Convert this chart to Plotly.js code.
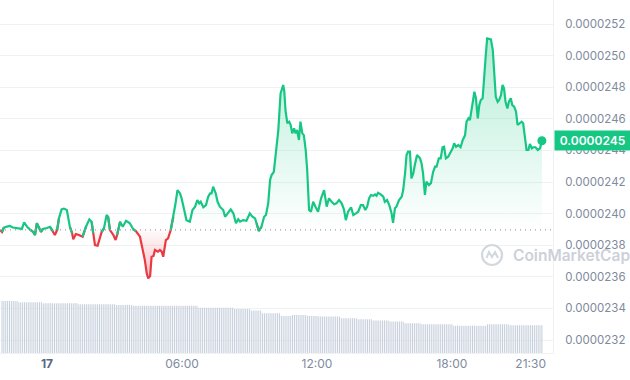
<!DOCTYPE html>
<html><head><meta charset="utf-8">
<script src="https://cdn.plot.ly/plotly-3.0.1.min.js"></script>
<style>html,body{margin:0;padding:0;background:#fff}#chart{width:630px;height:380px}</style>
</head><body><div id="chart"></div>
<script>
// 24h price (reference open price drawn as the dotted line)
const openPrice = 2.3897e-5;

const times = [
'2024-01-16 21:55','2024-01-16 22:00','2024-01-16 22:05','2024-01-16 22:13','2024-01-16 22:21','2024-01-16 22:29','2024-01-16 22:37','2024-01-16 22:45','2024-01-16 22:53','2024-01-16 22:59',
'2024-01-16 23:07','2024-01-16 23:15','2024-01-16 23:23','2024-01-16 23:28','2024-01-16 23:33','2024-01-16 23:44','2024-01-16 23:49','2024-01-17 00:00','2024-01-17 00:08','2024-01-17 00:16',
'2024-01-17 00:21','2024-01-17 00:27','2024-01-17 00:32','2024-01-17 00:39','2024-01-17 00:45','2024-01-17 00:53','2024-01-17 00:57','2024-01-17 01:01','2024-01-17 01:07','2024-01-17 01:10',
'2024-01-17 01:17','2024-01-17 01:25','2024-01-17 01:35','2024-01-17 01:44','2024-01-17 01:53','2024-01-17 01:59','2024-01-17 02:03','2024-01-17 02:08','2024-01-17 02:15','2024-01-17 02:21',
'2024-01-17 02:26','2024-01-17 02:32','2024-01-17 02:39','2024-01-17 02:43','2024-01-17 02:48','2024-01-17 02:57','2024-01-17 03:03','2024-01-17 03:07','2024-01-17 03:15','2024-01-17 03:22',
'2024-01-17 03:31','2024-01-17 03:41','2024-01-17 03:50','2024-01-17 03:57','2024-01-17 04:08','2024-01-17 04:17','2024-01-17 04:21','2024-01-17 04:26','2024-01-17 04:30','2024-01-17 04:35',
'2024-01-17 04:39','2024-01-17 04:44','2024-01-17 04:48','2024-01-17 04:56','2024-01-17 05:01','2024-01-17 05:06','2024-01-17 05:10','2024-01-17 05:17','2024-01-17 05:23','2024-01-17 05:30',
'2024-01-17 05:37','2024-01-17 05:43','2024-01-17 05:48','2024-01-17 05:55','2024-01-17 05:59','2024-01-17 06:06','2024-01-17 06:12','2024-01-17 06:21','2024-01-17 06:28','2024-01-17 06:35',
'2024-01-17 06:41','2024-01-17 06:46','2024-01-17 06:50','2024-01-17 06:57','2024-01-17 07:04','2024-01-17 07:10','2024-01-17 07:15','2024-01-17 07:19','2024-01-17 07:23','2024-01-17 07:30',
'2024-01-17 07:35','2024-01-17 07:41','2024-01-17 07:50','2024-01-17 07:55','2024-01-17 08:03','2024-01-17 08:10','2024-01-17 08:17','2024-01-17 08:24','2024-01-17 08:30','2024-01-17 08:35',
'2024-01-17 08:43','2024-01-17 08:52','2024-01-17 09:01','2024-01-17 09:08','2024-01-17 09:15','2024-01-17 09:19','2024-01-17 09:25','2024-01-17 09:32','2024-01-17 09:39','2024-01-17 09:44',
'2024-01-17 09:50','2024-01-17 09:55','2024-01-17 09:59','2024-01-17 10:05','2024-01-17 10:11','2024-01-17 10:17','2024-01-17 10:23','2024-01-17 10:27','2024-01-17 10:30','2024-01-17 10:33',
'2024-01-17 10:36','2024-01-17 10:41','2024-01-17 10:46','2024-01-17 10:50','2024-01-17 10:54','2024-01-17 10:59','2024-01-17 11:03','2024-01-17 11:07','2024-01-17 11:12','2024-01-17 11:16',
'2024-01-17 11:21','2024-01-17 11:25','2024-01-17 11:30','2024-01-17 11:34','2024-01-17 11:39','2024-01-17 11:44','2024-01-17 11:50','2024-01-17 11:56','2024-01-17 12:03','2024-01-17 12:11',
'2024-01-17 12:19','2024-01-17 12:26','2024-01-17 12:32','2024-01-17 12:39','2024-01-17 12:46','2024-01-17 12:52','2024-01-17 12:59','2024-01-17 13:06','2024-01-17 13:12','2024-01-17 13:17',
'2024-01-17 13:23','2024-01-17 13:31','2024-01-17 13:37','2024-01-17 13:44','2024-01-17 13:50','2024-01-17 13:57','2024-01-17 14:03','2024-01-17 14:09','2024-01-17 14:14','2024-01-17 14:19',
'2024-01-17 14:24','2024-01-17 14:30','2024-01-17 14:35','2024-01-17 14:39','2024-01-17 14:43','2024-01-17 14:50','2024-01-17 14:57','2024-01-17 15:01','2024-01-17 15:07','2024-01-17 15:13',
'2024-01-17 15:19','2024-01-17 15:23','2024-01-17 15:28','2024-01-17 15:32','2024-01-17 15:39','2024-01-17 15:46','2024-01-17 15:50','2024-01-17 15:55','2024-01-17 15:59','2024-01-17 16:03',
'2024-01-17 16:08','2024-01-17 16:12','2024-01-17 16:17','2024-01-17 16:21','2024-01-17 16:27','2024-01-17 16:35','2024-01-17 16:39','2024-01-17 16:43','2024-01-17 16:48','2024-01-17 16:52',
'2024-01-17 16:59','2024-01-17 17:04','2024-01-17 17:10','2024-01-17 17:15','2024-01-17 17:19','2024-01-17 17:25','2024-01-17 17:30','2024-01-17 17:35','2024-01-17 17:39','2024-01-17 17:44',
'2024-01-17 17:50','2024-01-17 17:55','2024-01-17 18:02','2024-01-17 18:06','2024-01-17 18:11','2024-01-17 18:17','2024-01-17 18:23','2024-01-17 18:29','2024-01-17 18:35','2024-01-17 18:39',
'2024-01-17 18:44','2024-01-17 18:48','2024-01-17 18:53','2024-01-17 18:57','2024-01-17 19:00','2024-01-17 19:04','2024-01-17 19:09','2024-01-17 19:13','2024-01-17 19:17','2024-01-17 19:22',
'2024-01-17 19:25','2024-01-17 19:30','2024-01-17 19:34','2024-01-17 19:40','2024-01-17 19:44','2024-01-17 19:49','2024-01-17 19:53','2024-01-17 19:57','2024-01-17 20:02','2024-01-17 20:06',
'2024-01-17 20:11','2024-01-17 20:15','2024-01-17 20:19','2024-01-17 20:23','2024-01-17 20:28','2024-01-17 20:32','2024-01-17 20:37','2024-01-17 20:41','2024-01-17 20:46','2024-01-17 20:51',
'2024-01-17 20:55','2024-01-17 21:00','2024-01-17 21:06','2024-01-17 21:10','2024-01-17 21:15','2024-01-17 21:19','2024-01-17 21:24','2024-01-17 21:28','2024-01-17 21:33','2024-01-17 21:37',
'2024-01-17 21:43','2024-01-17 21:49','2024-01-17 21:55','2024-01-17 21:58','2024-01-17 22:00'
];

const prices = [
2.3896e-5,2.3884e-5,2.3912e-5,2.3918e-5,2.3922e-5,2.3912e-5,2.3909e-5,2.3903e-5,2.3903e-5,2.3945e-5,
2.3917e-5,2.3899e-5,2.3884e-5,2.3865e-5,2.3939e-5,2.3885e-5,2.3903e-5,2.3909e-5,2.3917e-5,2.3890e-5,
2.3865e-5,2.3896e-5,2.3972e-5,2.4027e-5,2.4032e-5,2.4023e-5,2.3972e-5,2.3917e-5,2.3877e-5,2.3837e-5,
2.3871e-5,2.3865e-5,2.3854e-5,2.3917e-5,2.3964e-5,2.3949e-5,2.3877e-5,2.3801e-5,2.3797e-5,2.3844e-5,
2.3885e-5,2.3907e-5,2.3991e-5,2.3980e-5,2.3896e-5,2.3865e-5,2.3833e-5,2.3865e-5,2.3949e-5,2.3917e-5,
2.3955e-5,2.3939e-5,2.3901e-5,2.3890e-5,2.3854e-5,2.3749e-5,2.3706e-5,2.3622e-5,2.3590e-5,2.3605e-5,
2.3727e-5,2.3732e-5,2.3770e-5,2.3759e-5,2.3770e-5,2.3759e-5,2.3727e-5,2.3833e-5,2.3844e-5,2.3896e-5,
2.3980e-5,2.4067e-5,2.4149e-5,2.4128e-5,2.4097e-5,2.4023e-5,2.3959e-5,2.3949e-5,2.4023e-5,2.4044e-5,
2.4086e-5,2.4065e-5,2.4075e-5,2.4040e-5,2.4054e-5,2.4107e-5,2.4128e-5,2.4128e-5,2.4170e-5,2.4128e-5,
2.4075e-5,2.4044e-5,2.4023e-5,2.3980e-5,2.4002e-5,2.4027e-5,2.4002e-5,2.3939e-5,2.3964e-5,2.3949e-5,
2.3959e-5,2.3955e-5,2.4002e-5,2.3980e-5,2.3970e-5,2.3939e-5,2.3890e-5,2.3917e-5,2.3980e-5,2.3991e-5,
2.4065e-5,2.4213e-5,2.4244e-5,2.4265e-5,2.4382e-5,2.4529e-5,2.4761e-5,2.4803e-5,2.4814e-5,2.4772e-5,
2.4656e-5,2.4572e-5,2.4582e-5,2.4561e-5,2.4508e-5,2.4540e-5,2.4508e-5,2.4529e-5,2.4466e-5,2.4582e-5,
2.4508e-5,2.4497e-5,2.4403e-5,2.4276e-5,2.4023e-5,2.4012e-5,2.4075e-5,2.4044e-5,2.4012e-5,2.4097e-5,
2.4149e-5,2.4044e-5,2.4097e-5,2.4075e-5,2.4059e-5,2.4065e-5,2.4086e-5,2.4065e-5,2.4027e-5,2.3959e-5,
2.4012e-5,2.4040e-5,2.3991e-5,2.4002e-5,2.4012e-5,2.4054e-5,2.4054e-5,2.4023e-5,2.4044e-5,2.4097e-5,
2.4118e-5,2.4113e-5,2.4122e-5,2.4113e-5,2.4132e-5,2.4122e-5,2.4107e-5,2.4075e-5,2.4086e-5,2.4054e-5,
2.4002e-5,2.3942e-5,2.4034e-5,2.4044e-5,2.4086e-5,2.4107e-5,2.4149e-5,2.4255e-5,2.4371e-5,2.4392e-5,
2.4392e-5,2.4223e-5,2.4255e-5,2.4308e-5,2.4371e-5,2.4350e-5,2.4318e-5,2.4255e-5,2.4118e-5,2.4202e-5,
2.4181e-5,2.4192e-5,2.4265e-5,2.4297e-5,2.4297e-5,2.4350e-5,2.4350e-5,2.4420e-5,2.4423e-5,2.4350e-5,
2.4360e-5,2.4382e-5,2.4413e-5,2.4445e-5,2.4423e-5,2.4434e-5,2.4420e-5,2.4466e-5,2.4497e-5,2.4582e-5,
2.4603e-5,2.4592e-5,2.4666e-5,2.4719e-5,2.4772e-5,2.4730e-5,2.4603e-5,2.4687e-5,2.4719e-5,2.4730e-5,
2.4846e-5,2.4993e-5,2.5109e-5,2.5103e-5,2.5103e-5,2.5035e-5,2.4888e-5,2.4740e-5,2.4708e-5,2.4719e-5,
2.4751e-5,2.4814e-5,2.4793e-5,2.4708e-5,2.4666e-5,2.4708e-5,2.4730e-5,2.4687e-5,2.4677e-5,2.4645e-5,
2.4561e-5,2.4572e-5,2.4582e-5,2.4572e-5,2.4487e-5,2.4403e-5,2.4403e-5,2.4441e-5,2.4413e-5,2.4420e-5,
2.4420e-5,2.4403e-5,2.4413e-5,2.4455e-5,2.4461e-5
];

// Volume bars, one per 5 minutes starting 22:00 on the 16th
const volumeStart = '2024-01-16T22:00:00Z';
const volumeStepMinutes = 5;
const volumes = [
157,157,157,157,157,157,157,157,157,
153,153,153,153,153,153,153,153,153,153,153,153,153,
150,150,150,150,150,150,150,150,150,150,150,150,150,150,150,150,150,150,150,
147,147,147,147,147,147,147,147,147,147,147,147,147,147,147,147,147,147,147,147,
145,145,145,145,145,145,145,145,145,
143,143,143,143,143,143,143,143,143,143,143,143,143,143,143,143,143,143,143,143,143,143,143,143,143,143,143,143,143,143,143,143,143,143,143,
137,137,137,137,137,137,137,137,137,137,137,137,137,137,137,137,137,137,137,
133,133,133,133,133,133,133,133,133,
128,128,128,128,128,128,
120,120,120,120,120,120,120,120,120,120,
112,112,112,112,112,112,115,115,115,115,115,115,115,115,112,112,112,112,112,112,
110,110,110,110,110,110,110,110,110,110,110,110,
105,105,105,105,105,105,105,105,105,
102,102,102,102,102,102,102,102,
98,98,98,98,98,98,98,98,98,
95,95,95,95,95,95,95,95,
90,90,90,90,90,90,90,90,90,
87,87,87,87,87,87,87,87,87,87,87,87,87,87,87,87,87,
82,82,82,82,82,82,82,82,82,82,82,82,82,82,82,82,82,82,
87,87,87,87,87,87,87,87,87,87,87,87,
84,84,84,84,84,84,84,84,84,84,84,84,84,84,84,84,84,84
];

const xTickVals = ['2024-01-17 00:00','2024-01-17 06:00','2024-01-17 12:00','2024-01-17 18:00','2024-01-17 21:30'];
const xTickText = ['<span style="color:#58667e;font-weight:bold">17</span>','06:00','12:00','18:00','21:30'];

const GREEN = '#16c784', RED = '#ea3943';

const t0 = Date.parse(volumeStart);
const volumeTimes = volumes.map((_, i) =>
  new Date(t0 + i * volumeStepMinutes * 60000).toISOString().slice(0, 16).replace('T', ' '));

const n = prices.length;
const baseLine = prices.map(() => openPrice);
const upFill = prices.map(v => Math.max(v, openPrice));
const downFill = prices.map(v => Math.min(v, openPrice));
const isUp = v => v >= openPrice;
const upLine = prices.map((v, i) => (isUp(v) || (i > 0 && isUp(prices[i-1])) || (i < n-1 && isUp(prices[i+1]))) ? v : null);
const downLine = prices.map((v, i) => (!isUp(v) || (i > 0 && !isUp(prices[i-1])) || (i < n-1 && !isUp(prices[i+1]))) ? v : null);
const maxP = Math.max(...prices), minP = Math.min(...prices);
const last = prices[n-1];

const traces = [
  {type:'bar', x: volumeTimes, y: volumes, yaxis:'y2', marker:{color:'#c6cfdc', line:{width:0}}, hoverinfo:'skip'},
  {type:'scatter', mode:'lines', x: times, y: baseLine, line:{width:0, color:'rgba(0,0,0,0)'}, hoverinfo:'skip'},
  {type:'scatter', mode:'lines', x: times, y: upFill, fill:'tonexty', line:{width:0, color:'rgba(0,0,0,0)'},
   fillgradient:{type:'vertical', start: openPrice, stop: maxP,
     colorscale:[[0,'rgba(22,199,132,0)'],[1,'rgba(22,199,132,0.32)']]}, hoverinfo:'skip'},
  {type:'scatter', mode:'lines', x: times, y: baseLine, line:{width:0, color:'rgba(0,0,0,0)'}, hoverinfo:'skip'},
  {type:'scatter', mode:'lines', x: times, y: downFill, fill:'tonexty', line:{width:0, color:'rgba(0,0,0,0)'},
   fillgradient:{type:'vertical', start: minP, stop: openPrice,
     colorscale:[[0,'rgba(234,57,67,0.32)'],[1,'rgba(234,57,67,0.02)']]}, hoverinfo:'skip'},
  {type:'scatter', mode:'lines', x: times, y: downLine, line:{color: RED, width: 2.2}, connectgaps:false, hoverinfo:'skip'},
  {type:'scatter', mode:'lines', x: times, y: upLine, line:{color: GREEN, width: 2.2}, connectgaps:false, hoverinfo:'skip'},
  {type:'scatter', mode:'markers', x: [times[n-1]], y: [last], marker:{color: GREEN, size: 9}, hoverinfo:'skip'}
];

const layout = {
  width: 630, height: 380,
  margin: {l: 0, r: 77, t: 0, b: 27},
  paper_bgcolor: '#ffffff', plot_bgcolor: '#ffffff',
  showlegend: false,
  font: {family: 'Inter, "Noto Sans", sans-serif', color: '#808a9d'},
  bargap: 0.45,
  xaxis: {
    type: 'date', range: ['2024-01-16 21:54:40', '2024-01-17 22:29:36'],
    tickmode: 'array', tickvals: xTickVals, ticktext: xTickText,
    showgrid: false, zeroline: false, showline: true, linecolor: '#eff2f5', linewidth: 1,
    ticks: '', tickfont: {size: 12, color: '#808a9d'}
  },
  yaxis: {
    side: 'right', range: [2.3118e-5, 2.5352e-5],
    tickmode: 'linear', tick0: 2.32e-5, dtick: 2e-7, tickformat: '.7f',
    showgrid: true, gridcolor: '#eff2f5', gridwidth: 1,
    zeroline: false, showline: true, linecolor: '#eff2f5', linewidth: 1,
    ticks: '', ticklabelstandoff: 9,
    tickfont: {size: 11.5, color: '#808a9d'}
  },
  yaxis2: {overlaying: 'y', range: [0, 1066], visible: false, showgrid: false},
  shapes: [
    {type:'line', xref:'paper', x0:0, x1:1, yref:'y', y0: openPrice, y1: openPrice,
     line:{color:'#9aa3b2', width:1.2, dash:'1px,4px'}, layer:'above'},
    {type:'circle', xref:'paper', yref:'paper', xsizemode:'pixel', ysizemode:'pixel',
     xanchor: 0.8897, yanchor: 0.2776, x0:-10, x1:10, y0:-10, y1:10,
     line:{color:'#d3d8df', width:2.2}, layer:'above'},
    {type:'path', xref:'paper', yref:'paper', xsizemode:'pixel', ysizemode:'pixel',
     xanchor: 0.8897, yanchor: 0.2776,
     path:'M -5.5,-3 L -3,3 L 0,-2 L 3,3 L 6,-3',
     line:{color:'#d3d8df', width:2}, layer:'above'}
  ],
  annotations: [
    {xref:'paper', x:1, xanchor:'left', xshift:1, yref:'y', y:last, yanchor:'middle',
     text: last.toFixed(7), showarrow:false, bgcolor: GREEN, borderpad:3, width:69, height:13,
     font:{color:'#ffffff', size:12, weight:600}},
    {xref:'paper', x:0.9240, xanchor:'left', yref:'paper', y:0.2776, yanchor:'middle',
     text:'CoinMarketCap', showarrow:false, font:{color:'#ccd1d9', size:15.5, weight:600}}
  ]
};

Plotly.newPlot('chart', traces, layout, {staticPlot: true, displayModeBar: false});
</script>
</body></html>
